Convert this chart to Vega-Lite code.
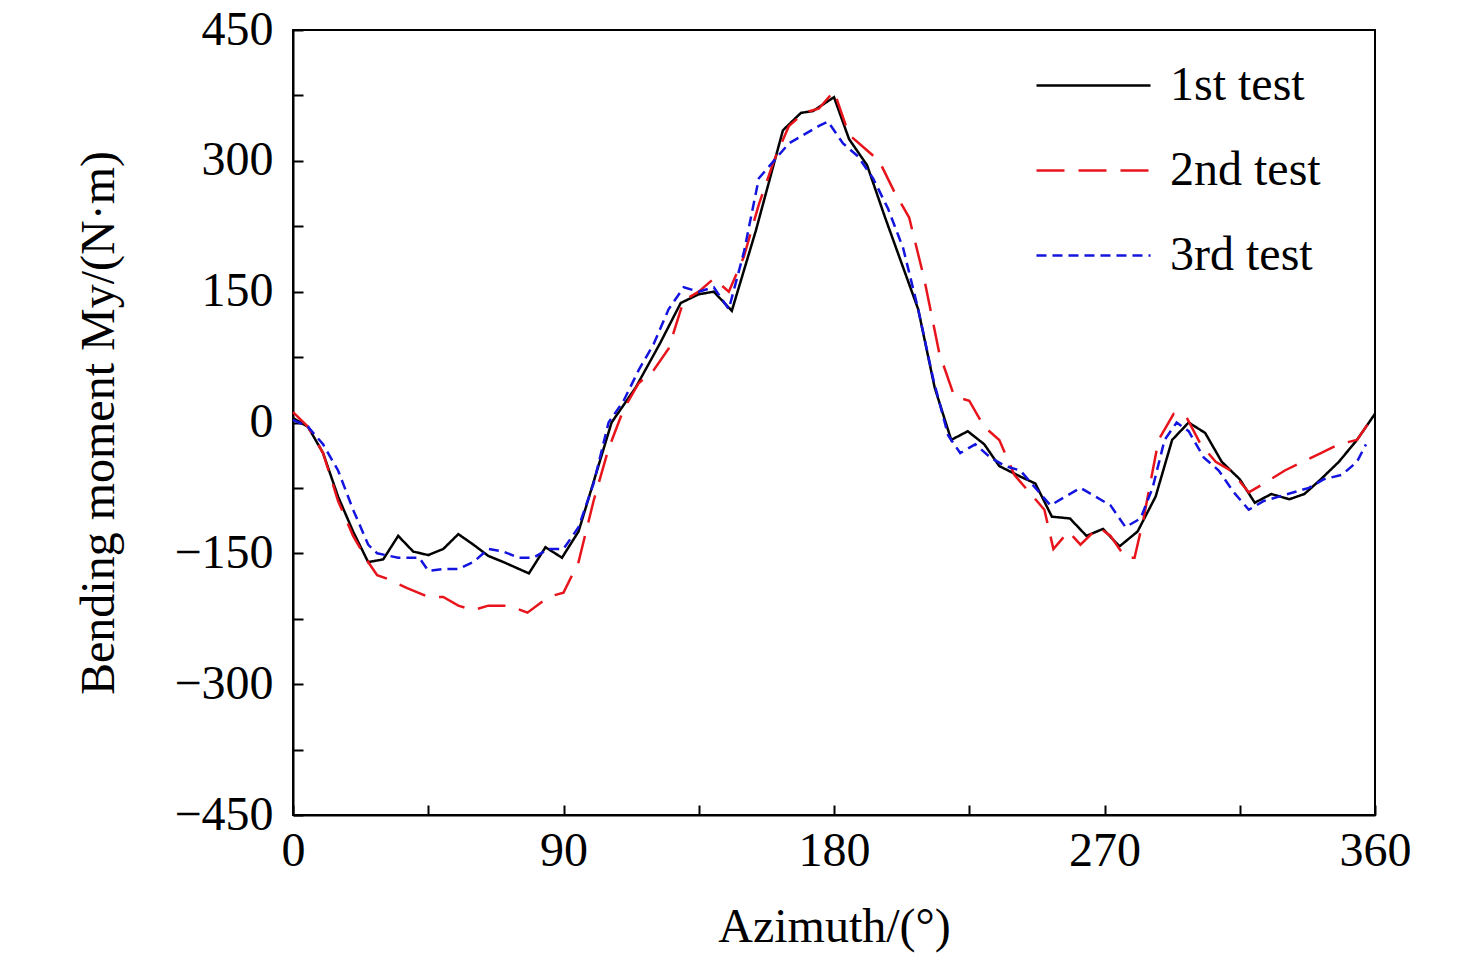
{
  "$schema": "https://vega.github.io/schema/vega-lite/v6.json",
  "width": 1082,
  "height": 785,
  "autosize": "none",
  "padding": {"left": 293, "top": 30, "right": 101, "bottom": 157},
  "background": "white",
  "config": {
    "font": "Liberation Serif",
    "view": {"stroke": "black", "strokeWidth": 2},
    "axis": {"grid": false, "domainColor": "black", "domainWidth": 2, "tickColor": "black", "tickWidth": 2, "labelColor": "black", "titleColor": "black", "labelFont": "Liberation Serif", "titleFont": "Liberation Serif", "labelFontSize": 48, "titleFontSize": 48, "titleFontWeight": "normal"}
  },
  "data": {"values": [
    {"t":"1st test","a":0,"m":5},{"t":"1st test","a":5,"m":-5},{"t":"1st test","a":10,"m":-35},{"t":"1st test","a":15,"m":-85},{"t":"1st test","a":20,"m":-125},{"t":"1st test","a":25,"m":-160},{"t":"1st test","a":30,"m":-157},{"t":"1st test","a":35,"m":-130},{"t":"1st test","a":40,"m":-148},{"t":"1st test","a":45,"m":-152},{"t":"1st test","a":50,"m":-145},{"t":"1st test","a":55,"m":-128},{"t":"1st test","a":60,"m":-140},{"t":"1st test","a":65,"m":-153},{"t":"1st test","a":70,"m":-160},{"t":"1st test","a":78.5,"m":-173},{"t":"1st test","a":84,"m":-143},{"t":"1st test","a":89.5,"m":-155},{"t":"1st test","a":95,"m":-125},{"t":"1st test","a":106,"m":0},{"t":"1st test","a":114,"m":40},{"t":"1st test","a":122,"m":90},{"t":"1st test","a":129,"m":137},{"t":"1st test","a":135,"m":147},{"t":"1st test","a":140,"m":150},{"t":"1st test","a":146,"m":128},{"t":"1st test","a":154,"m":220},{"t":"1st test","a":163,"m":335},{"t":"1st test","a":169,"m":355},{"t":"1st test","a":173,"m":357},{"t":"1st test","a":180,"m":373},{"t":"1st test","a":185,"m":325},{"t":"1st test","a":191,"m":295},{"t":"1st test","a":197,"m":235},{"t":"1st test","a":208,"m":130},{"t":"1st test","a":213.5,"m":40},{"t":"1st test","a":219,"m":-20},{"t":"1st test","a":224.5,"m":-10},{"t":"1st test","a":230,"m":-25},{"t":"1st test","a":235,"m":-50},{"t":"1st test","a":242,"m":-62},{"t":"1st test","a":247,"m":-70},{"t":"1st test","a":252.5,"m":-108},{"t":"1st test","a":258.5,"m":-110},{"t":"1st test","a":264,"m":-130},{"t":"1st test","a":269.5,"m":-122},{"t":"1st test","a":275,"m":-142},{"t":"1st test","a":281,"m":-125},{"t":"1st test","a":287,"m":-85},{"t":"1st test","a":292.5,"m":-20},{"t":"1st test","a":298,"m":0},{"t":"1st test","a":303.5,"m":-12},{"t":"1st test","a":309,"m":-45},{"t":"1st test","a":315,"m":-65},{"t":"1st test","a":320,"m":-92},{"t":"1st test","a":325.5,"m":-82},{"t":"1st test","a":331.5,"m":-88},{"t":"1st test","a":336.5,"m":-82},{"t":"1st test","a":342,"m":-65},{"t":"1st test","a":348,"m":-45},{"t":"1st test","a":354,"m":-20},{"t":"1st test","a":360,"m":10},
    {"t":"2nd test","a":0,"m":12},{"t":"2nd test","a":5,"m":-5},{"t":"2nd test","a":10,"m":-35},{"t":"2nd test","a":15,"m":-90},{"t":"2nd test","a":20,"m":-130},{"t":"2nd test","a":25,"m":-160},{"t":"2nd test","a":28,"m":-175},{"t":"2nd test","a":32,"m":-180},{"t":"2nd test","a":38,"m":-190},{"t":"2nd test","a":45,"m":-200},{"t":"2nd test","a":50,"m":-200},{"t":"2nd test","a":55,"m":-210},{"t":"2nd test","a":60,"m":-215},{"t":"2nd test","a":65,"m":-210},{"t":"2nd test","a":72,"m":-210},{"t":"2nd test","a":78,"m":-218},{"t":"2nd test","a":85,"m":-200},{"t":"2nd test","a":90,"m":-195},{"t":"2nd test","a":95,"m":-160},{"t":"2nd test","a":100,"m":-90},{"t":"2nd test","a":105,"m":-30},{"t":"2nd test","a":110,"m":15},{"t":"2nd test","a":115,"m":45},{"t":"2nd test","a":120,"m":60},{"t":"2nd test","a":125,"m":85},{"t":"2nd test","a":130,"m":140},{"t":"2nd test","a":135,"m":150},{"t":"2nd test","a":140,"m":165},{"t":"2nd test","a":145,"m":150},{"t":"2nd test","a":150,"m":190},{"t":"2nd test","a":155,"m":250},{"t":"2nd test","a":160,"m":300},{"t":"2nd test","a":165,"m":340},{"t":"2nd test","a":170,"m":355},{"t":"2nd test","a":175,"m":360},{"t":"2nd test","a":180,"m":380},{"t":"2nd test","a":185,"m":330},{"t":"2nd test","a":190,"m":315},{"t":"2nd test","a":195,"m":300},{"t":"2nd test","a":200,"m":265},{"t":"2nd test","a":205,"m":235},{"t":"2nd test","a":210,"m":165},{"t":"2nd test","a":215,"m":80},{"t":"2nd test","a":220,"m":30},{"t":"2nd test","a":225,"m":25},{"t":"2nd test","a":230,"m":-5},{"t":"2nd test","a":235,"m":-20},{"t":"2nd test","a":240,"m":-60},{"t":"2nd test","a":245,"m":-80},{"t":"2nd test","a":250,"m":-100},{"t":"2nd test","a":253,"m":-145},{"t":"2nd test","a":258,"m":-125},{"t":"2nd test","a":262,"m":-140},{"t":"2nd test","a":268,"m":-120},{"t":"2nd test","a":272,"m":-130},{"t":"2nd test","a":277,"m":-155},{"t":"2nd test","a":280,"m":-155},{"t":"2nd test","a":283,"m":-110},{"t":"2nd test","a":288,"m":-20},{"t":"2nd test","a":293,"m":10},{"t":"2nd test","a":297,"m":8},{"t":"2nd test","a":302,"m":-25},{"t":"2nd test","a":307,"m":-45},{"t":"2nd test","a":312,"m":-55},{"t":"2nd test","a":318,"m":-80},{"t":"2nd test","a":323,"m":-70},{"t":"2nd test","a":330,"m":-55},{"t":"2nd test","a":336,"m":-45},{"t":"2nd test","a":342,"m":-35},{"t":"2nd test","a":348,"m":-25},{"t":"2nd test","a":354,"m":-20},{"t":"2nd test","a":360,"m":10},
    {"t":"3rd test","a":0,"m":3},{"t":"3rd test","a":5,"m":-5},{"t":"3rd test","a":10,"m":-25},{"t":"3rd test","a":15,"m":-55},{"t":"3rd test","a":20,"m":-100},{"t":"3rd test","a":25,"m":-140},{"t":"3rd test","a":28,"m":-150},{"t":"3rd test","a":35,"m":-155},{"t":"3rd test","a":42,"m":-155},{"t":"3rd test","a":45,"m":-170},{"t":"3rd test","a":50,"m":-168},{"t":"3rd test","a":55,"m":-168},{"t":"3rd test","a":60,"m":-160},{"t":"3rd test","a":65,"m":-145},{"t":"3rd test","a":70,"m":-148},{"t":"3rd test","a":75,"m":-155},{"t":"3rd test","a":80,"m":-155},{"t":"3rd test","a":85,"m":-145},{"t":"3rd test","a":90,"m":-145},{"t":"3rd test","a":95,"m":-120},{"t":"3rd test","a":100,"m":-70},{"t":"3rd test","a":105,"m":0},{"t":"3rd test","a":110,"m":25},{"t":"3rd test","a":115,"m":60},{"t":"3rd test","a":120,"m":90},{"t":"3rd test","a":125,"m":130},{"t":"3rd test","a":130,"m":155},{"t":"3rd test","a":135,"m":150},{"t":"3rd test","a":140,"m":155},{"t":"3rd test","a":145,"m":130},{"t":"3rd test","a":150,"m":195},{"t":"3rd test","a":155,"m":280},{"t":"3rd test","a":160,"m":300},{"t":"3rd test","a":165,"m":320},{"t":"3rd test","a":170,"m":330},{"t":"3rd test","a":175,"m":340},{"t":"3rd test","a":178,"m":345},{"t":"3rd test","a":183,"m":320},{"t":"3rd test","a":188,"m":305},{"t":"3rd test","a":193,"m":280},{"t":"3rd test","a":198,"m":245},{"t":"3rd test","a":203,"m":200},{"t":"3rd test","a":208,"m":130},{"t":"3rd test","a":213,"m":50},{"t":"3rd test","a":218,"m":-15},{"t":"3rd test","a":222,"m":-35},{"t":"3rd test","a":227,"m":-25},{"t":"3rd test","a":232,"m":-40},{"t":"3rd test","a":237,"m":-50},{"t":"3rd test","a":242,"m":-55},{"t":"3rd test","a":247,"m":-75},{"t":"3rd test","a":252,"m":-95},{"t":"3rd test","a":257,"m":-85},{"t":"3rd test","a":262,"m":-75},{"t":"3rd test","a":267,"m":-85},{"t":"3rd test","a":272,"m":-95},{"t":"3rd test","a":277,"m":-120},{"t":"3rd test","a":282,"m":-110},{"t":"3rd test","a":286,"m":-75},{"t":"3rd test","a":290,"m":-20},{"t":"3rd test","a":294,"m":0},{"t":"3rd test","a":298,"m":-10},{"t":"3rd test","a":303,"m":-40},{"t":"3rd test","a":308,"m":-55},{"t":"3rd test","a":313,"m":-80},{"t":"3rd test","a":318,"m":-100},{"t":"3rd test","a":323,"m":-90},{"t":"3rd test","a":328,"m":-85},{"t":"3rd test","a":333,"m":-80},{"t":"3rd test","a":338,"m":-75},{"t":"3rd test","a":343,"m":-65},{"t":"3rd test","a":349,"m":-60},{"t":"3rd test","a":354,"m":-45},{"t":"3rd test","a":357,"m":-25}
  ]},
  "mark": {"type": "line", "strokeWidth": 2.5},
  "encoding": {
    "x": {"field": "a", "type": "quantitative", "scale": {"domain": [0, 360], "nice": false},
      "axis": {"title": "Azimuth/(°)", "values": [0, 45, 90, 135, 180, 225, 270, 315, 360], "labelExpr": "datum.value % 90 == 0 ? datum.label : ''", "tickSize": -10, "labelPadding": 22, "titlePadding": 28, "labelFlush": false}},
    "y": {"field": "m", "type": "quantitative", "scale": {"domain": [-450, 450], "nice": false},
      "axis": {"title": "Bending moment My/(N·m)", "values": [-450, -375, -300, -225, -150, -75, 0, 75, 150, 225, 300, 375, 450], "labelExpr": "datum.value % 150 == 0 ? datum.label : ''", "tickSize": -10, "labelPadding": 30, "titlePadding": 50}},
    "color": {"field": "t", "type": "nominal", "scale": {"domain": ["1st test", "2nd test", "3rd test"], "range": ["black", "#e8141c", "#1414e0"]},
      "legend": {"title": null, "orient": "none", "legendX": 742, "legendY": -3, "symbolType": "stroke", "symbolSize": 13000, "symbolStrokeWidth": 2.5, "labelFontSize": 48, "labelFont": "Liberation Serif", "labelColor": "black", "rowPadding": 2, "labelOffset": 18}},
    "strokeDash": {"field": "t", "type": "nominal", "scale": {"domain": ["1st test", "2nd test", "3rd test"], "range": [[1, 0], [28, 14], [10, 6]]}, "legend": null}
  }
}
